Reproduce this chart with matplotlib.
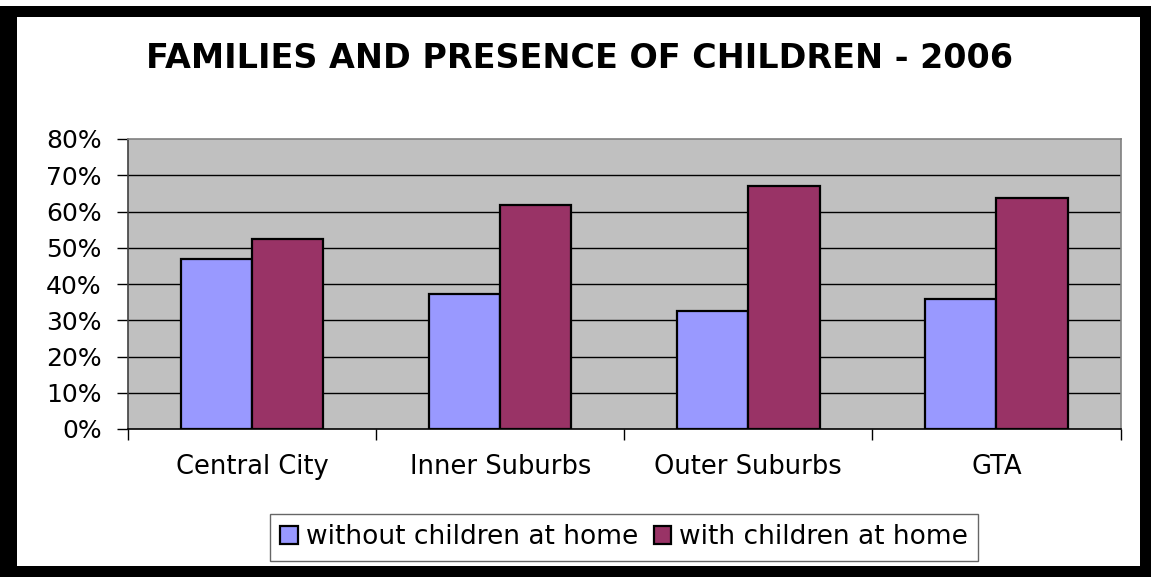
import numpy as np
import matplotlib.pyplot as plt
from matplotlib.patches import Rectangle

## Donnees

categories = ["Central City", "Inner Suburbs", "Outer Suburbs", "GTA"]
sans_enfants = [46.8, 37.2, 32.6, 35.9]
avec_enfants = [52.4, 61.9, 67.1, 63.6]
series = ["without children at home", "with children at home"]
yticks = [0, 10, 20, 30, 40, 50, 60, 70, 80]

## Figure

plt.rcParams['font.family'] = ['DejaVu Sans']

W, H = 1151, 577
fig = plt.figure(figsize=(W / 100, H / 100), dpi=100)

def px(x0, y0, x1, y1):
    # rectangle en pixels (origine en haut a gauche) -> coordonnees figure
    return (x0 / W, 1 - y1 / H, (x1 - x0) / W, (y1 - y0) / H)

ax = fig.add_axes(px(128, 139, 1120.5, 429))
ax.set_facecolor("#C0C0C0")

x = np.arange(len(categories))
w = 0.287
ax.bar(x - w / 2, sans_enfants, w, color="#9999FF", edgecolor="black", linewidth=1.6, zorder=3, label=series[0])
ax.bar(x + w / 2, avec_enfants, w, color="#993366", edgecolor="black", linewidth=1.6, zorder=3, label=series[1])

ax.set_xlim(-0.5, len(categories) - 0.5)
ax.set_ylim(0, 80)

# grille
for v in yticks[1:-1]:
    ax.axhline(v, color="black", linewidth=1, zorder=1)

ax.set_yticks(yticks)
ax.set_yticklabels([str(v) + "%" for v in yticks], fontsize=18)
ax.tick_params(axis="y", direction="out", length=8, width=1, pad=11, colors="black")

ax.set_xticks(np.arange(len(categories) + 1) - 0.5)
ax.set_xticklabels([])
ax.tick_params(axis="x", which="major", direction="out", length=8, width=1)
ax.set_xticks(x, minor=True)
ax.set_xticklabels(categories, minor=True, fontsize=18.5)
ax.tick_params(axis="x", which="minor", length=0, pad=18)

ax.spines["top"].set_color("#808080")
ax.spines["right"].set_color("#808080")
ax.spines["left"].set_color("#404040")
ax.spines["bottom"].set_color("black")
for s in ax.spines.values():
    s.set_linewidth(1.2)

fig.text(580 / W, 1 - 58 / H, "FAMILIES AND PRESENCE OF CHILDREN - 2006",
         ha="center", va="center", fontsize=24, fontweight="bold")

leg = fig.legend(loc="center", bbox_to_anchor=(624 / W, 1 - 537.5 / H), ncol=2,
                 fontsize=19, frameon=True, fancybox=False, handlelength=0.65,
                 handleheight=0.65, handletextpad=0.3, columnspacing=0.6,
                 borderpad=0.4, borderaxespad=0)
leg.get_frame().set_edgecolor("#404040")
leg.get_frame().set_linewidth(1)

# cadre noir
for r in [px(0, 6, W, 17), px(0, 566, W, H), px(0, 6, 17, H), px(1140, 6, W, H)]:
    fig.patches.append(Rectangle(r[:2], r[2], r[3], transform=fig.transFigure,
                                 facecolor="black", edgecolor="none"))

plt.savefig("out.png", dpi=100)
